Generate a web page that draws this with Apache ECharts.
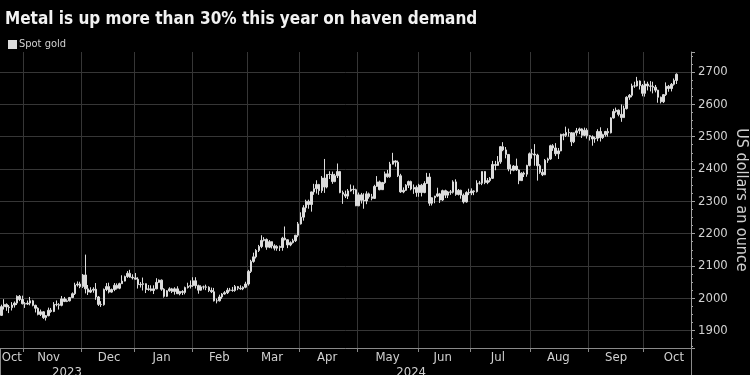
<!DOCTYPE html>
<html><head><meta charset="utf-8">
<script src="https://cdn.jsdelivr.net/npm/echarts@6/dist/echarts.min.js"></script>
<style>html,body{margin:0;padding:0;background:#000;}#c{width:750px;height:375px;}</style>
</head><body><div id="c"></div>
<script>
const titleText = 'Metal is up more than 30% this year on haven demand';
const seriesName = 'Spot gold';
const yAxisName = 'US dollars an ounce';
const monthNames = ['Jan','Feb','Mar','Apr','May','Jun','Jul','Aug','Sep','Oct','Nov','Dec'];

const dates = [
'2023-10-19','2023-10-20','2023-10-23','2023-10-24','2023-10-25','2023-10-26','2023-10-27','2023-10-30','2023-10-31',
'2023-11-01','2023-11-02','2023-11-03','2023-11-06','2023-11-07','2023-11-08','2023-11-09','2023-11-10','2023-11-13','2023-11-14','2023-11-15','2023-11-16','2023-11-17','2023-11-20','2023-11-21','2023-11-22','2023-11-23','2023-11-24','2023-11-27','2023-11-28','2023-11-29','2023-11-30',
'2023-12-01','2023-12-04','2023-12-05','2023-12-06','2023-12-07','2023-12-08','2023-12-11','2023-12-12','2023-12-13','2023-12-14','2023-12-15','2023-12-18','2023-12-19','2023-12-20','2023-12-21','2023-12-22','2023-12-26','2023-12-27','2023-12-28','2023-12-29',
'2024-01-02','2024-01-03','2024-01-04','2024-01-05','2024-01-08','2024-01-09','2024-01-10','2024-01-11','2024-01-12','2024-01-15','2024-01-16','2024-01-17','2024-01-18','2024-01-19','2024-01-22','2024-01-23','2024-01-24','2024-01-25','2024-01-26','2024-01-29','2024-01-30','2024-01-31',
'2024-02-01','2024-02-02','2024-02-05','2024-02-06','2024-02-07','2024-02-08','2024-02-09','2024-02-12','2024-02-13','2024-02-14','2024-02-15','2024-02-16','2024-02-19','2024-02-20','2024-02-21','2024-02-22','2024-02-23','2024-02-26','2024-02-27','2024-02-28','2024-02-29',
'2024-03-01','2024-03-04','2024-03-05','2024-03-06','2024-03-07','2024-03-08','2024-03-11','2024-03-12','2024-03-13','2024-03-14','2024-03-15','2024-03-18','2024-03-19','2024-03-20','2024-03-21','2024-03-22','2024-03-25','2024-03-26','2024-03-27','2024-03-28',
'2024-04-01','2024-04-02','2024-04-03','2024-04-04','2024-04-05','2024-04-08','2024-04-09','2024-04-10','2024-04-11','2024-04-12','2024-04-15','2024-04-16','2024-04-17','2024-04-18','2024-04-19','2024-04-22','2024-04-23','2024-04-24','2024-04-25','2024-04-26','2024-04-29','2024-04-30',
'2024-05-01','2024-05-02','2024-05-03','2024-05-06','2024-05-07','2024-05-08','2024-05-09','2024-05-10','2024-05-13','2024-05-14','2024-05-15','2024-05-16','2024-05-17','2024-05-20','2024-05-21','2024-05-22','2024-05-23','2024-05-24','2024-05-27','2024-05-28','2024-05-29','2024-05-30','2024-05-31',
'2024-06-03','2024-06-04','2024-06-05','2024-06-06','2024-06-07','2024-06-10','2024-06-11','2024-06-12','2024-06-13','2024-06-14','2024-06-17','2024-06-18','2024-06-19','2024-06-20','2024-06-21','2024-06-24','2024-06-25','2024-06-26','2024-06-27','2024-06-28',
'2024-07-01','2024-07-02','2024-07-03','2024-07-04','2024-07-05','2024-07-08','2024-07-09','2024-07-10','2024-07-11','2024-07-12','2024-07-15','2024-07-16','2024-07-17','2024-07-18','2024-07-19','2024-07-22','2024-07-23','2024-07-24','2024-07-25','2024-07-26','2024-07-29','2024-07-30','2024-07-31',
'2024-08-01','2024-08-02','2024-08-05','2024-08-06','2024-08-07','2024-08-08','2024-08-09','2024-08-12','2024-08-13','2024-08-14','2024-08-15','2024-08-16','2024-08-19','2024-08-20','2024-08-21','2024-08-22','2024-08-23','2024-08-26','2024-08-27','2024-08-28','2024-08-29','2024-08-30',
'2024-09-02','2024-09-03','2024-09-04','2024-09-05','2024-09-06','2024-09-09','2024-09-10','2024-09-11','2024-09-12','2024-09-13','2024-09-16','2024-09-17','2024-09-18','2024-09-19','2024-09-20','2024-09-23','2024-09-24','2024-09-25','2024-09-26','2024-09-27','2024-09-30',
'2024-10-01','2024-10-02','2024-10-03','2024-10-04','2024-10-07','2024-10-08','2024-10-09','2024-10-10','2024-10-11','2024-10-14','2024-10-15','2024-10-16','2024-10-17',
'2024-10-18','2024-10-21','2024-10-22','2024-10-23','2024-10-24'
];

const open = [
1947,1974,1981,1973,1971,1979,1985,2006,1996,
1983,1982,1985,1992,1978,1969,1950,1958,1940,1946,1963,1959,1981,1980,1978,1998,1990,1992,2002,2014,2041,2044,
2036,2072,2029,2019,2025,2028,2004,1981,1980,2027,2036,2019,2027,2040,2031,2045,2053,2067,2077,2065,
2063,2059,2042,2043,2045,2027,2029,2024,2029,2049,2056,2028,2006,2023,2029,2021,2029,2014,2021,2018,2033,2037,
2039,2054,2039,2025,2035,2035,2034,2024,2020,1992,1992,2004,2013,2017,2025,2025,2024,2036,2031,2029,2034,
2044,2083,2114,2128,2148,2160,2179,2182,2158,2175,2162,2155,2160,2157,2186,2181,2165,2172,2178,2195,
2230,2251,2280,2300,2290,2329,2339,2352,2333,2372,2344,2383,2383,2361,2379,2392,2327,2322,2316,2332,2337,2336,
2286,2320,2303,2301,2323,2314,2309,2346,2360,2336,2358,2385,2376,2415,2425,2421,2379,2329,2334,2350,2361,2338,2343,
2327,2350,2327,2355,2375,2294,2311,2316,2323,2304,2333,2319,2329,2328,2360,2321,2334,2319,2298,2327,
2326,2332,2330,2356,2356,2392,2358,2364,2371,2414,2411,2422,2469,2459,2445,2400,2396,2409,2397,2364,2387,2384,2411,
2447,2446,2443,2410,2390,2382,2427,2431,2472,2465,2447,2456,2507,2504,2513,2512,2484,2512,2518,2524,2504,2520,
2503,2500,2493,2495,2516,2497,2506,2516,2512,2558,2578,2582,2569,2559,2587,2622,2628,2657,2657,2672,2658,
2634,2663,2657,2656,2653,2644,2622,2608,2630,2656,2649,2662,2674
];

const close = [
1974,1981,1973,1971,1979,1985,2006,1996,1983,
1982,1985,1992,1978,1969,1950,1958,1940,1946,1963,1959,1981,1980,1978,1998,1990,1992,2002,2014,2041,2044,2036,
2072,2029,2019,2025,2028,2004,1981,1980,2027,2036,2019,2027,2040,2031,2045,2053,2067,2077,2065,2063,
2059,2042,2043,2045,2027,2029,2024,2029,2049,2056,2028,2006,2023,2029,2021,2029,2014,2021,2018,2033,2037,2039,
2054,2039,2025,2035,2035,2034,2024,2020,1992,1992,2004,2013,2017,2025,2025,2024,2036,2031,2029,2034,2044,
2083,2114,2128,2148,2160,2179,2182,2158,2175,2162,2155,2160,2157,2186,2181,2165,2172,2178,2195,2230,
2251,2280,2300,2290,2329,2339,2352,2333,2372,2344,2383,2383,2361,2379,2392,2327,2322,2316,2332,2337,2336,2286,
2320,2303,2301,2323,2314,2309,2346,2360,2336,2358,2385,2376,2415,2425,2421,2379,2329,2334,2350,2361,2338,2343,2327,
2350,2327,2355,2375,2294,2311,2316,2323,2304,2333,2319,2329,2328,2360,2321,2334,2319,2298,2327,2326,
2332,2330,2356,2356,2392,2358,2364,2371,2414,2411,2422,2469,2459,2445,2400,2396,2409,2397,2364,2387,2384,2411,2447,
2446,2443,2410,2390,2382,2427,2431,2472,2465,2447,2456,2507,2504,2513,2512,2484,2512,2518,2524,2504,2520,2503,
2500,2493,2495,2516,2497,2506,2516,2512,2558,2578,2582,2569,2559,2587,2622,2628,2657,2657,2672,2658,2634,
2663,2657,2656,2653,2644,2622,2608,2630,2656,2649,2662,2674,2693
];

const low = [
1945,1965,1961,1954,1962,1971,1979,1991,1981,
1970,1979,1978,1975,1956,1947,1945,1936,1931,1944,1955,1957,1975,1965,1975,1988,1988,1990,2001,2010,2036,2031,
2032,2015,2010,2016,2017,1995,1976,1973,1977,2022,2015,2017,2022,2027,2028,2044,2052,2063,2064,2058,
2058,2030,2033,2024,2016,2023,2021,2013,2028,2047,2023,2002,2004,2020,2016,2011,2013,2009,2010,2012,2030,2030,
2035,2030,2014,2023,2027,2025,2019,2016,1990,1984,1990,1998,2011,2013,2021,2020,2020,2025,2026,2025,2031,
2039,2078,2110,2123,2143,2155,2176,2150,2155,2154,2148,2147,2146,2147,2179,2155,2161,2169,2174,2189,
2228,2240,2266,2277,2268,2320,2324,2320,2326,2326,2340,2369,2354,2359,2372,2325,2292,2310,2307,2330,2322,2285,
2285,2293,2277,2291,2308,2303,2307,2345,2334,2336,2354,2373,2373,2414,2407,2375,2326,2325,2332,2341,2334,2323,2314,
2314,2315,2325,2354,2286,2287,2294,2313,2295,2301,2310,2310,2320,2324,2317,2318,2308,2293,2296,2319,
2319,2319,2327,2352,2350,2353,2353,2359,2369,2396,2410,2416,2455,2433,2393,2384,2393,2394,2353,2364,2375,2376,2408,
2432,2410,2364,2385,2378,2381,2419,2428,2456,2440,2431,2455,2489,2499,2500,2471,2480,2503,2508,2496,2502,2494,
2488,2472,2481,2486,2485,2493,2500,2500,2510,2556,2574,2563,2546,2558,2584,2614,2622,2651,2655,2646,2625,
2624,2643,2640,2634,2637,2605,2603,2604,2626,2639,2640,2658,2663
];

const high = [
1980,1997,1984,1979,1988,1990,2009,2010,2008,
1988,1993,2004,1995,1980,1972,1965,1960,1948,1971,1970,1988,1993,1985,2007,2004,1997,2004,2018,2048,2052,2051,
2075,2135,2041,2034,2034,2047,2007,1991,2030,2047,2048,2030,2047,2046,2048,2071,2070,2084,2088,2074,
2078,2065,2050,2064,2046,2041,2040,2040,2062,2058,2058,2031,2025,2034,2032,2034,2037,2023,2025,2036,2048,2055,
2065,2065,2042,2040,2039,2042,2037,2033,2032,1999,2011,2016,2022,2032,2032,2035,2041,2038,2040,2037,2051,
2088,2119,2141,2152,2165,2195,2189,2185,2180,2176,2167,2164,2163,2190,2222,2182,2176,2184,2196,2236,
2266,2288,2305,2305,2330,2354,2365,2354,2378,2431,2384,2393,2392,2385,2417,2394,2333,2333,2338,2352,2349,2339,
2327,2326,2325,2331,2327,2323,2351,2378,2364,2360,2392,2397,2422,2450,2427,2426,2385,2343,2353,2364,2364,2352,2349,
2354,2354,2362,2388,2387,2313,2317,2342,2326,2336,2336,2332,2335,2365,2368,2338,2336,2324,2331,2339,
2340,2334,2365,2363,2392,2393,2372,2375,2425,2425,2440,2470,2483,2468,2446,2414,2412,2432,2399,2390,2392,2413,2451,
2462,2477,2447,2415,2400,2431,2435,2475,2477,2480,2465,2509,2510,2531,2525,2514,2513,2527,2528,2526,2528,2526,
2505,2504,2500,2523,2529,2509,2518,2526,2560,2586,2590,2584,2600,2596,2625,2632,2664,2670,2685,2674,2663,
2673,2670,2672,2670,2660,2645,2624,2632,2668,2660,2666,2680,2696
];

const monthLabelDates = ['2023-10-25','2023-11-14','2023-12-15','2024-01-16','2024-02-15','2024-03-14','2024-04-15','2024-05-16','2024-06-14','2024-07-15','2024-08-15','2024-09-16','2024-10-16'];
const yearLabelDates = ['2023-11-23','2024-05-29'];
const yearStartDates = ['2024-01-02'];

const FONT = '"DejaVu Sans Condensed", "DejaVu Sans", sans-serif';
const candles = dates.map((d, i) => i < close.length ? [open[i], close[i], low[i], high[i]] : '-');
const isMonthStart = (i) => i > 0 && dates[i].slice(0, 7) !== dates[i - 1].slice(0, 7);

const chart = echarts.init(document.getElementById('c'), null, { renderer: 'canvas' });
chart.setOption({
  backgroundColor: '#000',
  animation: false,
  title: {
    text: titleText, left: 0, top: 6,
    textStyle: { color: '#f2f2f2', fontSize: 17, fontWeight: 'bold', fontFamily: FONT }
  },
  legend: {
    left: 3, top: 34, icon: 'rect', itemWidth: 7, itemHeight: 7, itemGap: 4,
    textStyle: { color: '#d0d0d0', fontSize: 11, fontFamily: FONT, padding: [0, 0, 0, -2] },
    data: [seriesName]
  },
  grid: { left: 0, right: 59, top: 52, bottom: 27, containLabel: false, outerBoundsMode: 'none' },
  xAxis: [
    {
      type: 'category', data: dates, boundaryGap: true, position: 'bottom',
      axisLine: { show: true, lineStyle: { color: '#8a8a8a' } },
      axisTick: { show: true, interval: (i) => isMonthStart(i), length: 4, lineStyle: { color: '#8a8a8a' } },
      axisLabel: {
        interval: (i, v) => monthLabelDates.includes(v),
        formatter: (v) => monthNames[+v.slice(5, 7) - 1],
        color: '#d0d0d0', fontSize: 13, fontFamily: FONT, margin: 3
      },
      splitLine: { show: true, interval: (i) => isMonthStart(i), lineStyle: { color: '#363636', width: 1 } }
    },
    {
      type: 'category', data: dates, boundaryGap: true, position: 'bottom', offset: 0,
      axisLine: { show: false },
      axisTick: { show: true, interval: (i, v) => yearStartDates.includes(v), length: 28, lineStyle: { color: '#8a8a8a' } },
      axisLabel: {
        interval: (i, v) => yearLabelDates.includes(v),
        formatter: (v) => v.slice(0, 4),
        color: '#d0d0d0', fontSize: 13, fontFamily: FONT, margin: 18
      },
      splitLine: { show: false }
    }
  ],
  yAxis: {
    type: 'value', position: 'right', min: 1846, max: 2762, splitNumber: 9, minInterval: 100, maxInterval: 100,
    name: yAxisName, nameLocation: 'middle', nameRotate: -90, nameGap: 42, nameMoveOverlap: false,
    nameTextStyle: { color: '#d0d0d0', fontSize: 16, fontFamily: FONT },
    axisLine: { show: true, lineStyle: { color: '#a0a0a0' } },
    axisTick: { show: true, length: 4, lineStyle: { color: '#a0a0a0' } },
    minorTick: { show: true, splitNumber: 4, length: 2, lineStyle: { color: '#a0a0a0' } },
    axisLabel: {
      color: '#d0d0d0', fontSize: 13, fontFamily: FONT, margin: 7,
      formatter: (v) => (v % 100 === 0 ? String(v) : '')
    },
    splitLine: { show: true, showMaxLine: false, lineStyle: { color: '#363636' } }
  },
  series: [{
    name: seriesName, type: 'candlestick', data: candles, barWidth: 2,
    itemStyle: { color: '#dcdcdc', color0: '#dcdcdc', borderColor: '#dcdcdc', borderColor0: '#dcdcdc', borderWidth: 1 }
  }]
});
</script>
</body></html>
